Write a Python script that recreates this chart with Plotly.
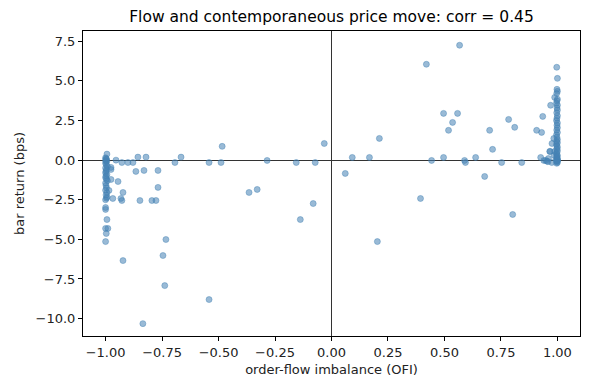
import plotly.graph_objects as go

# order-flow imbalance (x) and bar return in bps (y)
ofi = [
    # left edge column (OFI ~ -1)
    -1.0, -0.998, -0.996, -1.0, -0.994, -0.998, -1.0, -0.996, -0.992, -1.0,
    -0.996, -0.998, -1.0, -0.994, -0.998, -1.0, -0.996, -0.992, -1.0, -0.998,
    -0.996, -1.0, -0.994, -0.998, -0.996, -1.0,
    -0.994, -0.954, -0.857, -0.821, -0.666, -0.928, -0.901, -0.879, -0.693, -0.542,
    -0.489, -0.866, -0.830, -0.768, -0.976, -0.976, -0.976, -0.945, -0.768, -0.923,
    -0.985, -0.968, -0.932, -0.928, -0.848, -0.795, -0.777, -0.994, -1.0, -1.0,
    -1.0, -0.99, -0.997, -1.0, -0.733, -0.746, -0.923, -0.738, -0.542, -0.835,
    -0.994, -0.484,
    # middle
    -0.365, -0.329, -0.285, -0.156, -0.138, -0.081, -0.072, -0.032, 0.061, 0.092,
    0.168, 0.212, 0.203,
    # right side
    0.394, 0.420, 0.443, 0.496, 0.496, 0.518, 0.536, 0.558, 0.567, 0.589,
    0.593, 0.638, 0.678, 0.700, 0.713, 0.753, 0.784, 0.802, 0.811, 0.842,
    0.908, 0.926, 0.930, 0.935, 0.940, 0.948, 0.954, 0.966, 0.968, 0.970,
    0.975, 0.976, 0.984, 0.985, 0.988, 0.988, 0.96, 0.958,
    # right edge column (OFI ~ 1)
    0.997, 1.0, 0.997, 1.0, 0.998, 1.0, 0.996, 1.0, 0.998, 0.997,
    1.0, 0.996, 0.998, 1.0, 0.997, 1.0, 0.998, 0.996, 1.0, 0.997,
    1.0, 0.998, 0.996, 1.0, 0.997, 1.0, 0.998, 1.0, 0.996, 0.998,
    1.0, 0.997, 1.0, 0.998, 1.0, 0.996, 0.998, 1.0, 0.997, 1.0,
    0.998, 1.0, 0.997, 0.996, 1.0, 0.998,
]
bar_return = [
    0.15, 0.1, 0.05, 0.0, -0.05, -0.1, -0.2, -0.3, -0.4, -0.5,
    -0.6, -0.7, -0.8, -0.9, -1.0, -1.1, -1.2, -1.3, -1.45, -1.6,
    -1.75, -1.9, -2.05, -2.2, -2.4, -2.5,
    0.38, 0.0, 0.19, 0.19, 0.19, -0.15, -0.15, -0.15, -0.15, -0.15,
    -0.15, -0.71, -0.65, -0.65, -0.46, -0.59, -1.22, -1.35, -1.72, -2.04,
    -1.91, -2.42, -2.42, -2.55, -2.55, -2.55, -2.55, -3.75, -2.99, -3.11,
    -4.31, -4.31, -4.63, -5.14, -5.01, -6.02, -6.34, -7.92, -8.80, -10.32,
    -2.32, 0.87,
    -2.04, -1.85, -0.02, -0.15, -3.75, -2.74, -0.15, 1.05, -0.84, 0.17,
    0.17, 1.37, -5.14,
    -2.42, 6.05, -0.02, 2.95, 0.17, 1.88, 2.38, 2.95, 7.25, -0.02,
    -0.15, 0.17, -1.03, 1.88, 0.68, -0.15, 2.57, -3.43, 2.07, -0.15,
    1.88, 0.17, 1.75, 2.76, -0.02, -0.02, -0.06, 0.55, 0.55, 3.46,
    -0.15, 1.05, 1.37, 0.3, 3.96, 0.55, 0.1, -0.1,
    -0.2, -0.15, -0.1, -0.05, 0.0, 0.0, 0.05, 0.1, 0.15, 0.2,
    0.3, 0.4, 0.5, 0.6, 0.7, 0.8, 0.9, 1.0, 1.1, 1.2,
    1.3, 1.45, 1.6, 1.75, 1.9, 2.05, 2.2, 2.35, 2.5, 2.65,
    2.8, 2.99, 3.16, 3.3, 3.47, 3.6, 3.75, 3.85, 4.21, 4.34,
    4.47, 5.16, 5.86, -0.05, 0.0, 0.25,
]

x_ticks = [-1.0, -0.75, -0.5, -0.25, 0.0, 0.25, 0.5, 0.75, 1.0]
y_ticks = [7.5, 5.0, 2.5, 0.0, -2.5, -5.0, -7.5, -10.0]

fig = go.Figure()
fig.add_trace(go.Scatter(
    x=ofi, y=bar_return, mode="markers",
    marker=dict(size=6, color="rgba(70,130,180,0.55)",
                line=dict(width=0.8, color="rgba(70,130,180,0.55)")),
    showlegend=False,
))

font = "DejaVu Sans"
axis_common = dict(
    showline=True, mirror=True, linecolor="black", linewidth=1,
    ticks="outside", ticklen=4, tickwidth=0.8, tickcolor="black",
    showgrid=False, zeroline=True, zerolinecolor="#333333", zerolinewidth=0.8,
    tickfont=dict(family=font, size=13, color="#222"),
)
fig.update_xaxes(range=[-1.1, 1.1], tickvals=x_ticks, tickformat=".2f",
                 title=dict(text="order-flow imbalance (OFI)", font=dict(family=font, size=13, color="#222"), standoff=6),
                 **axis_common)
fig.update_yaxes(range=[-11.1, 8.15], tickvals=y_ticks, tickformat=".1f",
                 title=dict(text="bar return (bps)", font=dict(family=font, size=13, color="#222"), standoff=8),
                 **axis_common)
fig.update_layout(
    width=590, height=390,
    margin=dict(l=83, r=10, t=31, b=54),
    paper_bgcolor="white", plot_bgcolor="white",
    title=dict(text="Flow and contemporaneous price move: corr = 0.45",
               x=(83 + 580) / 2 / 590, xanchor="center", y=1 - 17 / 390, yanchor="middle",
               font=dict(family=font, size=15.5, color="black")),
)
fig.write_html("out.html")
